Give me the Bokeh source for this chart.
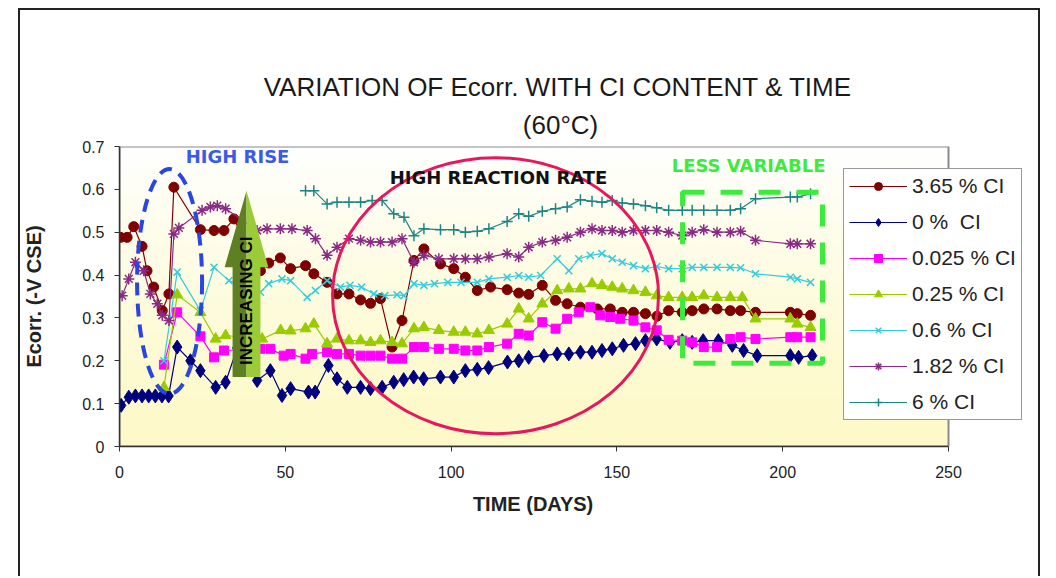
import numpy as np
from bokeh.plotting import figure
from bokeh.models import Range1d, FixedTicker, Legend, LegendItem, Label, Title
from bokeh.embed import file_html
from bokeh.resources import INLINE

# ---------------- texts ----------------
TITLE = "VARIATION OF Ecorr. WITH CI CONTENT & TIME"
SUBTITLE = "(60°C)"
X_LABEL = "TIME (DAYS)"
Y_LABEL = "Ecorr. (-V CSE)"
X_TICKS = [0, 50, 100, 150, 200, 250]
Y_TICKS = [0, 0.1, 0.2, 0.3, 0.4, 0.5, 0.6, 0.7]

# ---------------- data (days, -V CSE) ----------------
days_365 = [0.3, 2.3, 4.3, 6.8, 8.3, 10.3, 12.9, 14.9, 16.4, 24.4, 28.5, 31.5, 34.5,
            42.5, 45, 48.5, 51.6, 56.1, 58.6, 62.6, 65.6, 69.2, 72.7, 75.7, 78.7, 82.2,
            85.2, 88.8, 91.8, 96.8, 100.8, 104.3, 107.9, 111.9, 116.9, 120.4, 123.4,
            127.5, 131.5, 135, 139, 144.1, 148, 151.6, 155, 158.6, 162.1, 165.6, 169.7,
            172.7, 176.2, 180.2, 184.2, 187.3, 191.8, 202.3, 204.4, 208.4]
ecorr_365 = [0.488, 0.488, 0.513, 0.467, 0.41, 0.372, 0.317, 0.356, 0.605, 0.506, 0.504,
             0.504, 0.531, 0.41, 0.428, 0.44, 0.415, 0.422, 0.403, 0.383, 0.356, 0.356,
             0.342, 0.334, 0.345, 0.232, 0.294, 0.434, 0.461, 0.426, 0.415, 0.395, 0.364,
             0.372, 0.366, 0.358, 0.355, 0.376, 0.341, 0.333, 0.325, 0.321, 0.321, 0.313,
             0.313, 0.31, 0.304, 0.317, 0.313, 0.317, 0.321, 0.321, 0.317, 0.317, 0.313,
             0.313, 0.31, 0.306]

days_0 = [0.5, 2.8, 4.8, 6.8, 8.8, 10.8, 12.8, 14.8, 17.4, 21.4, 24.4, 29, 32, 35.5,
          41.5, 45.5, 49, 51.6, 57, 59, 63, 65.6, 68.7, 72.7, 75.7, 79.2, 82.7, 85.7,
          88.7, 91.7, 96.8, 100.8, 104.3, 107.9, 111.3, 117, 120.4, 123.4, 128, 132,
          135.5, 139, 142.5, 145.5, 148.6, 152, 155.6, 158.6, 162, 166, 169.7, 172.7,
          176, 180.6, 184.8, 188.2, 192.3, 202.3, 204.8, 208.9]
ecorr_0 = [0.096, 0.115, 0.118, 0.118, 0.118, 0.118, 0.118, 0.118, 0.232, 0.20, 0.177,
           0.138, 0.15, 0.23, 0.154, 0.177, 0.119, 0.135, 0.127, 0.127, 0.189, 0.158,
           0.138, 0.138, 0.135, 0.138, 0.15, 0.156, 0.162, 0.158, 0.162, 0.162, 0.177,
           0.18, 0.184, 0.197, 0.2, 0.208, 0.212, 0.216, 0.216, 0.22, 0.22, 0.224, 0.228,
           0.236, 0.24, 0.247, 0.251, 0.243, 0.247, 0.243, 0.247, 0.247, 0.236, 0.224,
           0.212, 0.212, 0.208, 0.212]

days_0025 = [13.4, 17.4, 24.4, 28.5, 31.5, 42.5, 45.5, 49.5, 51.6, 56.1, 58.1, 62.6,
             65.6, 69.2, 72.7, 75.7, 78.7, 82.2, 85.2, 88.8, 91.8, 96.3, 100.8, 104.3,
             107.9, 111.4, 116.9, 120.4, 123.4, 127.5, 131.5, 135, 138.5, 142, 145, 148,
             151, 155, 158.6, 162, 165.6, 169.7, 172.7, 176.2, 180.2, 184.2, 187.3,
             191.8, 202.3, 204.4, 208.4]
ecorr_0025 = [0.191, 0.313, 0.257, 0.208, 0.224, 0.228, 0.228, 0.212, 0.216, 0.205,
              0.216, 0.22, 0.216, 0.216, 0.212, 0.212, 0.212, 0.205, 0.205, 0.232, 0.232,
              0.228, 0.228, 0.224, 0.224, 0.232, 0.24, 0.263, 0.259, 0.29, 0.275, 0.298,
              0.313, 0.325, 0.306, 0.302, 0.298, 0.294, 0.278, 0.271, 0.249, 0.247,
              0.243, 0.232, 0.232, 0.251, 0.255, 0.251, 0.255, 0.255, 0.255]

days_025 = [13.4, 17.4, 24.4, 29, 32, 43, 48.6, 51.6, 56.1, 58.6, 62.6, 65.6, 69.2,
            72.7, 75.7, 78.7, 82.2, 85.2, 88.8, 91.8, 96.3, 100.8, 104.3, 107.9, 111.4,
            116.9, 120.4, 123.4, 127.5, 132, 135.5, 139, 142.5, 145.5, 148.6, 151.6, 155,
            158.6, 162, 165.6, 169.7, 172.7, 176.2, 180.2, 184.2, 187.8, 191.8, 202.3,
            204.4, 208.4]
ecorr_025 = [0.138, 0.354, 0.313, 0.251, 0.259, 0.251, 0.271, 0.27, 0.275, 0.286, 0.24,
             0.251, 0.247, 0.247, 0.243, 0.247, 0.243, 0.24, 0.275, 0.278, 0.271, 0.267,
             0.267, 0.263, 0.271, 0.286, 0.321, 0.298, 0.333, 0.364, 0.368, 0.368, 0.38,
             0.376, 0.372, 0.368, 0.364, 0.36, 0.352, 0.348, 0.348, 0.348, 0.352, 0.348,
             0.348, 0.348, 0.298, 0.298, 0.286, 0.278]

days_06 = [13.4, 17.4, 24.4, 28.5, 33, 42.5, 45, 49, 51.6, 56.6, 59.1, 62.6, 66.6, 69.5,
           73, 76.7, 80, 83.7, 85.8, 88.8, 91.8, 95, 99, 103, 107.9, 111.4, 116.9, 120.4,
           123.4, 127, 132, 135.5, 138.5, 142, 145.5, 148.6, 151.6, 155, 158.6, 162,
           165.6, 169.7, 172.7, 176.2, 180.2, 184.2, 187.3, 191.8, 202.3, 204.4, 208.4]
ecorr_06 = [0.2, 0.407, 0.317, 0.418, 0.387, 0.36, 0.38, 0.391, 0.387, 0.348, 0.364,
            0.387, 0.372, 0.376, 0.372, 0.356, 0.352, 0.354, 0.352, 0.38, 0.376, 0.38,
            0.383, 0.383, 0.383, 0.391, 0.395, 0.399, 0.395, 0.399, 0.438, 0.41, 0.438,
            0.446, 0.45, 0.438, 0.43, 0.422, 0.415, 0.42, 0.415, 0.415, 0.418, 0.418,
            0.418, 0.418, 0.417, 0.403, 0.395, 0.391, 0.383]

days_182 = [0.8, 2.8, 4.8, 7.3, 9.3, 11.4, 12.9, 14.9, 16.4, 17.9, 24.9, 27.4, 29.5, 32,
            41.5, 44.5, 48.5, 52, 56.6, 59.1, 62.6, 65.6, 69.2, 72.7, 75.7, 78.7, 82.2,
            85.2, 88.8, 91.8, 96.3, 100.8, 104.3, 107.9, 111.4, 116.9, 120.4, 123.4,
            127.5, 131.5, 135, 139, 142.5, 145.5, 148.6, 151.6, 155, 158.6, 162, 165.6,
            169.7, 172.7, 176.2, 180.2, 184.2, 187.3, 191.8, 202.3, 204.4, 208.4]
ecorr_182 = [0.352, 0.391, 0.43, 0.41, 0.356, 0.333, 0.306, 0.294, 0.496, 0.51, 0.551,
             0.559, 0.562, 0.555, 0.504, 0.508, 0.508, 0.508, 0.504, 0.485, 0.446, 0.465,
             0.485, 0.481, 0.477, 0.477, 0.477, 0.485, 0.43, 0.446, 0.438, 0.438, 0.438,
             0.438, 0.442, 0.45, 0.442, 0.465, 0.477, 0.481, 0.488, 0.5, 0.508, 0.504,
             0.504, 0.5, 0.504, 0.504, 0.504, 0.5, 0.492, 0.5, 0.506, 0.5, 0.5, 0.502,
             0.481, 0.473, 0.473, 0.473]

days_6 = [56.1, 58.6, 62.6, 65.6, 69.2, 72.7, 76.2, 79.2, 82.7, 85.8, 88.8, 91.8, 96.8,
          100.8, 104.3, 107.9, 111.4, 116.9, 120.4, 123.4, 127.5, 131.5, 135, 139, 142.5,
          145.5, 148.6, 151.6, 155, 158.6, 162, 165.6, 169.7, 172.7, 176.2, 180.2, 184.2,
          187.3, 191.8, 202.3, 204.4, 208.4]
ecorr_6 = [0.597, 0.597, 0.566, 0.57, 0.57, 0.57, 0.574, 0.574, 0.543, 0.535, 0.492,
           0.508, 0.506, 0.506, 0.5, 0.502, 0.508, 0.525, 0.543, 0.537, 0.549, 0.555,
           0.559, 0.576, 0.572, 0.57, 0.574, 0.568, 0.566, 0.562, 0.557, 0.551, 0.551,
           0.551, 0.551, 0.551, 0.551, 0.555, 0.578, 0.582, 0.582, 0.59]

SERIES = [
    ("3.65 % CI", days_365, ecorr_365, "#7F0000", "circle", 10),
    ("0 %  CI", days_0, ecorr_0, "#000080", "diamond", 14),
    ("0.025 % CI", days_0025, ecorr_0025, "#FF00FF", "square", 9),
    ("0.25 % CI", days_025, ecorr_025, "#99CC00", "triangle", 11),
    ("0.6 % CI", days_06, ecorr_06, "#33CCDD", "x", 10),
    ("1.82 % CI", days_182, ecorr_182, "#8B2A86", "asterisk", 11),
    ("6 % CI", days_6, ecorr_6, "#1E8585", "cross", 11),
]

X_MIN, X_MAX = 0, 250
Y_MIN, Y_MAX = 0, 0.7

# layout (pixels)
CANVAS_W, CANVAS_H = 1022, 568
BORDER_L, BORDER_T, BORDER_B = 99, 136, 132
PLOT_W = 829            # width of the plotting area that holds 0..250 days
FRAME_W = 921           # frame extends right so the legend can overlap it
BORDER_R = CANVAS_W - BORDER_L - FRAME_W
X_VIEW_MAX = X_MAX * FRAME_W / PLOT_W

FONT = "Liberation Sans"
BOLD_FONT = "DejaVu Sans"

p = figure(width=CANVAS_W, height=CANVAS_H, output_backend="svg", toolbar_location=None,
           x_range=Range1d(X_MIN, X_VIEW_MAX), y_range=Range1d(Y_MIN, Y_MAX),
           min_border_left=BORDER_L, min_border_right=BORDER_R, min_border_top=BORDER_T,
           min_border_bottom=BORDER_B)
p.margin = (8, 0, 0, 18)
p.styles = {"border-left": "2px solid #222", "border-top": "2px solid #222",
            "border-right": "2px solid #222"}
p.background_fill_color = "white"
p.border_fill_color = "white"
p.outline_line_color = None
p.grid.visible = False

# background gradient of the plot area (white at top, pale yellow at bottom)
H = 300
grad = np.empty((H, 1), dtype=np.uint32)
view = grad.view(dtype=np.uint8).reshape((H, 1, 4))
t = np.linspace(0, 1, H)  # 0 bottom -> 1 top
view[:, 0, 0] = (253 + 2 * t).astype(np.uint8)
view[:, 0, 1] = (249 + 6 * t).astype(np.uint8)
view[:, 0, 2] = (200 + 55 * t ** 1.3).astype(np.uint8)
view[:, 0, 3] = 255
p.image_rgba(image=[grad], x=X_MIN, y=Y_MIN, dw=X_MAX - X_MIN, dh=Y_MAX - Y_MIN)
# plot-area border
p.quad(left=[X_MIN], right=[X_MAX], bottom=[Y_MIN], top=[Y_MAX], fill_alpha=0,
       line_color="#8a8a8a", line_width=2)

# axes
p.xaxis.ticker = FixedTicker(ticks=X_TICKS)
p.yaxis.ticker = FixedTicker(ticks=Y_TICKS)
p.xaxis.bounds = (X_MIN, X_MAX)
p.yaxis.major_label_overrides = {0: "0"}
for ax in (p.xaxis[0], p.yaxis[0]):
    ax.axis_line_color = "#333333"
    ax.axis_line_width = 1.5
    ax.major_tick_line_color = "#333333"
    ax.major_tick_out = 5
    ax.major_tick_in = 0
    ax.minor_tick_out = 0
    ax.minor_tick_in = 0
    ax.major_label_text_font = FONT
    ax.major_label_text_font_size = "16px"
    ax.major_label_text_color = "#222222"
    ax.axis_label_text_font = FONT
    ax.axis_label_text_font_style = "bold"
    ax.axis_label_text_font_size = "20px"
    ax.axis_label_text_color = "#222222"
p.yaxis.axis_label = Y_LABEL
p.xaxis.major_label_standoff = 14
p.yaxis.major_label_standoff = 10
p.yaxis.axis_label_standoff = 34

# x-axis label, centred under the 0..250 span (x ~ 533 px)
XLAB_SIZE = 20
x_title = Title(text=X_LABEL, align="left", offset=PLOT_W / 2 - 6.111 * XLAB_SIZE / 2,
                text_font=FONT, text_font_size=f"{XLAB_SIZE}px", text_font_style="bold",
                text_color="#222222", standoff=20)
p.add_layout(x_title, "below")

# series
items = []
for name, xs, ys, color, marker, size in SERIES:
    lr = p.line(xs, ys, line_color=color, line_width=1.2)
    if marker in ("x", "asterisk", "cross"):
        sr = p.scatter(xs, ys, marker=marker, size=size, line_color=color, line_width=1.5,
                       fill_color=color)
    else:
        sr = p.scatter(xs, ys, marker=marker, size=size, line_color=color, fill_color=color)
    items.append(LegendItem(label=name, renderers=[lr, sr]))

# ---------------- annotations ----------------
# green arrow "INCREASING CI"
AX, AHS, AHH = 38.3, 4.2, 6.6
A_BOTTOM, A_BASE, A_TIP = 0.162, 0.418, 0.597
p.patch([AX - AHS, AX, AX, AX - AHH, AX - AHS],
        [A_BOTTOM, A_BOTTOM, A_TIP, A_BASE, A_BASE], fill_color="#5E7F22", line_color=None)
p.patch([AX, AX + AHS, AX + AHS, AX + AHH, AX],
        [A_BOTTOM, A_BOTTOM, A_BASE, A_BASE, A_TIP], fill_color="#9CCB3A", line_color=None)
p.add_layout(Label(x=AX, y=0.34, text="INCREASING CI", angle=np.pi / 2, text_align="center",
                   text_baseline="middle", text_font=FONT, text_font_style="bold",
                   text_font_size="17px", text_color="black"))

# blue dashed ellipse
p.ellipse(x=[15.1], y=[0.385], width=19.6, height=0.525, fill_alpha=0,
          line_color="#2A45E0", line_width=4, line_dash="13 8")
p.add_layout(Label(x=35.6, y=0.677, text="HIGH RISE", text_align="center",
                   text_baseline="middle", text_font=BOLD_FONT, text_font_style="bold",
                   text_font_size="18px", text_color="#3B5BE6"))

# pink ellipse
p.ellipse(x=[113.4], y=[0.352], width=98.3, height=0.644, fill_alpha=0,
          line_color="#E8175D", line_width=3)
p.add_layout(Label(x=114.3, y=0.628, text="HIGH REACTION RATE", text_align="center",
                   text_baseline="middle", text_font=BOLD_FONT, text_font_style="bold",
                   text_font_size="18px", text_color="#111111"))

# green dashed box
p.quad(left=[169.8], right=[212], bottom=[0.194], top=[0.593], fill_alpha=0,
       line_color="#3CEB3C", line_width=5, line_dash="22 16")
p.add_layout(Label(x=189.7, y=0.656, text="LESS VARIABLE", text_align="center",
                   text_baseline="middle", text_font=BOLD_FONT, text_font_style="bold",
                   text_font_size="18px", text_color="#3CEB3C"))

# title (two lines, centred over x ~ 560 px)
TITLE_SIZE = 26
TITLE_CENTER = 441       # px from the frame's left edge
t2 = Title(text=SUBTITLE, align="left", offset=TITLE_CENTER - 2.9 * TITLE_SIZE / 2,
           text_font=FONT, text_font_size=f"{TITLE_SIZE}px", text_font_style="normal",
           text_color="#1a1a1a", standoff=13, text_line_height=1.0)
t1 = Title(text=TITLE, align="left", offset=TITLE_CENTER - 22.835 * TITLE_SIZE / 2,
           text_font=FONT, text_font_size=f"{TITLE_SIZE}px", text_font_style="normal",
           text_color="#1a1a1a", standoff=0, text_line_height=1.0)
p.add_layout(t2, "above")
p.add_layout(t1, "above")

legend = Legend(items=items, location=(724, 26), orientation="vertical")
legend.label_text_font = FONT
legend.label_text_font_size = "21px"
legend.label_text_color = "#222222"
legend.glyph_width = 58
legend.glyph_height = 20
legend.label_height = 20
legend.label_standoff = 5
legend.spacing = 12
legend.padding = 5
legend.margin = 0
legend.border_line_color = "#333333"
legend.border_line_width = 1.2
legend.background_fill_color = "white"
legend.background_fill_alpha = 1
p.add_layout(legend, "center")

open("out.html", "w").write(file_html(p, INLINE))
